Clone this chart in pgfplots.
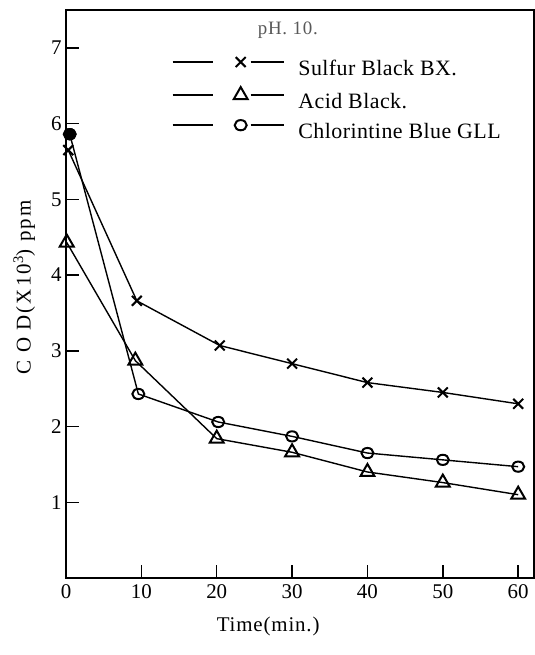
\documentclass[border=0pt]{standalone}
\usepackage{fontspec}
\setmainfont{Liberation Serif}
\newfontfamily\spaced[LetterSpace=10]{Liberation Serif}
\newfontfamily\slight[LetterSpace=4]{Liberation Serif}
\newfontfamily\legfont[LetterSpace=2]{Liberation Serif}
\usepackage{pgfplots}
\pgfplotsset{compat=1.18}

\pgfplotstableread{
t    cod
0.3  5.65
9.4  3.66
20.4 3.07
30   2.83
40   2.58
50   2.45
60   2.30
}\sulfur
\pgfplotstableread{
t    cod
0.1  4.43
9.2  2.87
20   1.84
30   1.66
40   1.40
50   1.26
60   1.10
}\acid
\pgfplotstableread{
t    cod
0.5  5.86
9.6  2.43
20.2 2.06
30   1.87
40   1.65
50   1.56
60   1.47
}\chlor

\begin{document}
\begin{tikzpicture}
\begin{axis}[
  at={(0bp,0bp)}, anchor=south west,
  scale only axis,
  width=468bp, height=568bp,
  xmin=0, xmax=62.1, ymin=0, ymax=7.5,
  xtick={0,10,...,60}, ytick={1,2,...,7},
  xtick pos=bottom, ytick pos=left,
  tick align=inside,
  major tick length=13bp,
  axis line style={line width=1.5bp},
  every tick/.style={black, line width=1.4bp},
  /pgf/number format/assume math mode=true,
  tick label style={font=\fontsize{21}{24}\selectfont},
  xticklabel style={yshift=-3bp},
  yticklabel style={xshift=-1bp},
  xlabel={\slight Time(min.)},
  ylabel={\spaced C O D(X10\textsuperscript{3}) ppm},
  label style={font=\fontsize{21}{24}\selectfont},
  xlabel style={at={(ticklabel cs:0.432)}, yshift=-12bp},
  ylabel style={at={(ticklabel cs:0.512,9bp)}},
  legend cell align=left,
  legend style={draw=none, fill=none, inner sep=0pt, outer sep=0pt,
    at={(rel axis cs:0.2265,0.917)}, anchor=north west,
    font=\legfont\fontsize{22}{26}\selectfont,
    nodes={inner sep=0pt, text height=17bp, text depth=6bp},
    row sep=5.5bp,
    /tikz/every odd column/.append style={column sep=14bp}},
  legend image code/.code={
    \draw[#1, mark=none] (0bp,8bp) -- (40bp,8bp);
    \draw[#1, mark=none] (78bp,8bp) -- (111bp,8bp);
    \draw[#1, only marks] plot coordinates {(68bp,8bp)};
  },
]
\addplot[black, line width=1.4bp, mark=x, mark size=7bp,
  mark options={line width=2bp}] table[x=t, y=cod] {\sulfur};
\addlegendentry{Sulfur Black BX.}
\addplot[black, line width=1.4bp, mark=triangle, mark size=8bp,
  mark options={line width=2bp}] table[x=t, y=cod] {\acid};
\addlegendentry{Acid Black.}
\addplot[black, line width=1.4bp, mark=o, mark size=6bp,
  mark options={line width=2bp, yscale=0.85}] table[x=t, y=cod] {\chlor};
\addlegendentry{Chlorintine Blue GLL}
% starting value of the blue dye, drawn solid
\addplot[black, only marks, mark=*, mark size=6bp, forget plot]
  coordinates {(0.5,5.86)};
\node[anchor=center, text=black!65, font=\slight\fontsize{19}{22}\selectfont]
  at (rel axis cs:0.474,0.965) {pH. 10.};
\end{axis}
\path (-66bp,-77bp) rectangle (469bp,578bp);
\end{tikzpicture}
\end{document}
